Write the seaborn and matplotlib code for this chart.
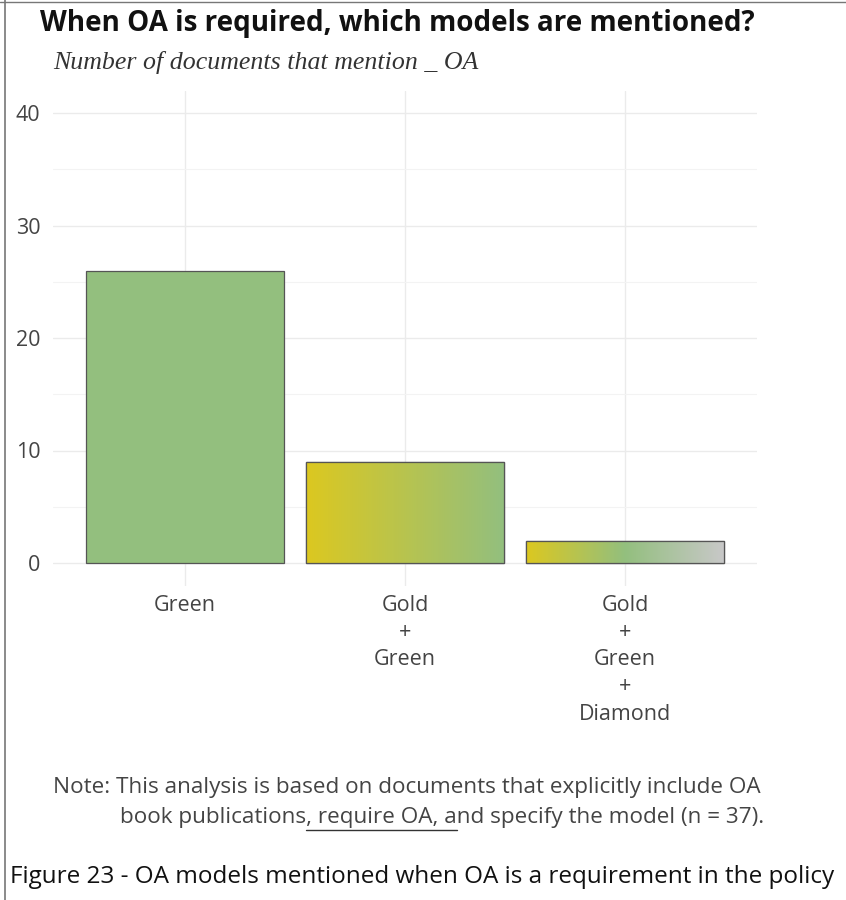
import numpy as np
import pandas as pd
import matplotlib
matplotlib.use("Agg")
import matplotlib.pyplot as plt
import seaborn as sns
from matplotlib.colors import LinearSegmentedColormap, to_rgb
from matplotlib.lines import Line2D

categories = ["Green", "Gold\n+\nGreen", "Gold\n+\nGreen\n+\nDiamond"]
counts = [26, 9, 2]
bar_colors = [["#93BF7E"], ["#DCC820", "#93BF7E"], ["#DCC820", "#93BF7E", "#C8C8C8"]]
yticks = [0, 10, 20, 30, 40]

df = pd.DataFrame({"model": categories, "count": counts})

sns.set_theme(style="white")
plt.rcParams["font.family"] = ["Open Sans", "DejaVu Sans"]

W, H = 846, 900
fig = plt.figure(figsize=(W / 100, H / 100), dpi=100)
ax = fig.add_axes([53/W, 1 - 585.5/H, (757-53)/W, (585.5-90.5)/H])

sns.barplot(data=df, x="model", y="count", ax=ax, width=0.9, saturation=1,
            color="#93BF7E", edgecolor="#555555", linewidth=0.9, zorder=3)

ax.set_xlim(-0.6, 2.6)
ax.set_ylim(-2, 42)

# gradient fills
for patch, cols in zip(ax.patches, bar_colors):
    x0, y0 = patch.get_x(), patch.get_y()
    w, h = patch.get_width(), patch.get_height()
    if len(cols) == 1:
        continue
    cmap = LinearSegmentedColormap.from_list("g", [to_rgb(c) for c in cols])
    grad = np.linspace(0, 1, 256).reshape(1, -1)
    im = ax.imshow(grad, cmap=cmap, aspect="auto", extent=[x0, x0 + w, y0, y0 + h],
                   zorder=3.5, interpolation="bilinear")
    im.set_clip_path(patch)
    outline = plt.Rectangle((x0, y0), w, h, fill=False, edgecolor="#555555",
                            linewidth=0.9, zorder=4)
    ax.add_patch(outline)
ax.set_xlim(-0.6, 2.6)
ax.set_ylim(-2, 42)

ax.set_yticks(yticks)
ax.set_yticks([5, 15, 25, 35], minor=True)
ax.grid(True, which="major", color="#EBEBEB", linewidth=1.0, zorder=0)
ax.grid(True, which="minor", axis="y", color="#F3F3F3", linewidth=0.8, zorder=0)
ax.set_axisbelow(True)
for s in ax.spines.values():
    s.set_visible(False)
ax.tick_params(axis="both", which="both", length=0, labelsize=15.5, colors="#444444")
ax.tick_params(axis="y", pad=9)
ax.tick_params(axis="x", pad=7)
ax.set_xlabel("")
ax.set_ylabel("")
for lbl in ax.get_xticklabels():
    lbl.set_linespacing(1.38)

fig.text(40/W, 1 - 23/H, "When OA is required, which models are mentioned?",
         fontsize=20, fontweight="bold", color="#111111", va="center", ha="left")
fig.text(53/W, 1 - 63/H, "Number of documents that mention _ OA",
         fontsize=18.6, fontstyle="italic", family=["Liberation Serif", "DejaVu Serif"],
         color="#333333", va="center", ha="left")

note_kw = dict(fontsize=16.2, color="#444444", va="center", ha="left")
fig.text(53/W, 1 - 788/H, "Note: This analysis is based on documents that explicitly include OA", **note_kw)
line2 = fig.text(120/W, 1 - 818/H, "book publications, require OA, and specify the model (n = 37).", **note_kw)

fig.text(10/W, 1 - 877/H, "Figure 23 - OA models mentioned when OA is a requirement in the policy",
         fontsize=17.5, color="#111111", va="center", ha="left")

# underline under ", require OA, a" measured from text extents
fig.canvas.draw()
r = fig.canvas.get_renderer()
def width_of(s):
    t = fig.text(0, 0, s, **note_kw)
    wpx = t.get_window_extent(renderer=r).width
    t.remove()
    return wpx
x_start = 120 + width_of("book publications")
x_end = 120 + width_of("book publications, require OA, a")
fig.add_artist(Line2D([x_start / W, x_end / W], [1 - 830/H, 1 - 830/H], color="#333333", linewidth=1.0))

# page border lines
fig.add_artist(Line2D([5/W, 5/W], [0, 1], color="#777777", linewidth=1.2))
fig.add_artist(Line2D([0, 1], [1 - 2/H, 1 - 2/H], color="#777777", linewidth=1.0))

fig.savefig("out.png", dpi=100, facecolor="white")
